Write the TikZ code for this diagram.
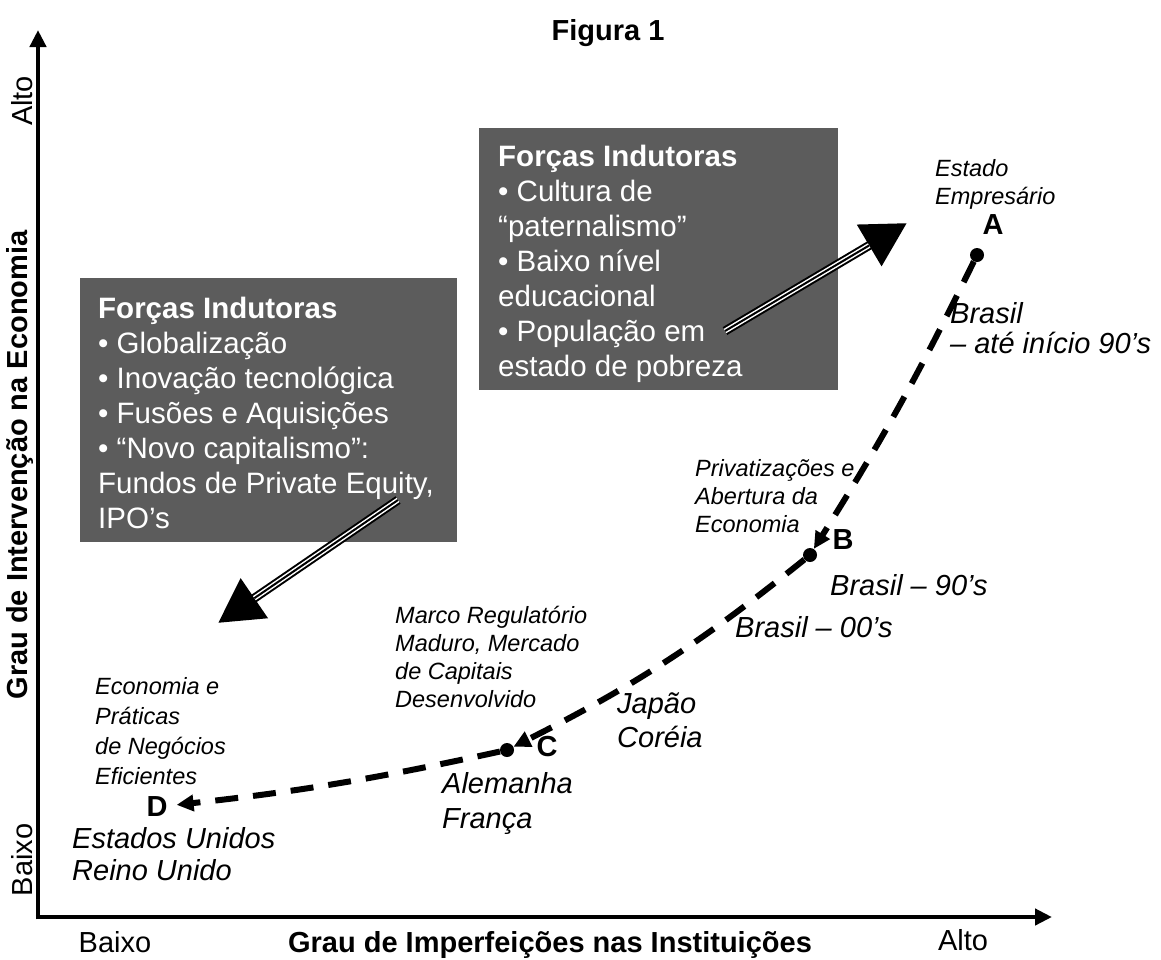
\documentclass[tikz,border=0pt]{standalone}
\usepackage{fontspec}
\setmainfont{Liberation Sans}
\usetikzlibrary{arrows.meta}
\definecolor{boxgray}{RGB}{92,92,92}

\tikzset{
  axisline/.style={line width=4.5pt, -{Triangle[length=17pt,width=16pt]}},
  axislabel/.style={font=\fontsize{29}{33}\selectfont, inner sep=0pt},
  axistitle/.style={font=\fontsize{29}{33}\selectfont\bfseries, inner sep=0pt},
  forcebox/.style={fill=boxgray, draw=none, inner sep=0pt},
  boxtext/.style={text=white, font=\fontsize{29.5}{35}\selectfont, align=left, inner sep=0pt},
  bigarrow/.style={line width=9pt, -{Triangle[length=44pt,width=46pt]}},
  gapline/.style={line width=5pt, white, shorten >=44pt},
  coreline/.style={line width=2pt, black, shorten >=44pt},
  ptdot/.style={circle, fill=black, inner sep=0pt, minimum size=14pt},
  ptletter/.style={font=\fontsize{29}{33}\selectfont\bfseries, inner sep=0pt},
  trend/.style={line width=6pt, dash pattern=on 23pt off 15pt, -{Triangle[length=17pt,width=16pt]}},
  biglbl/.style={font=\fontsize{29}{33}\selectfont\itshape, align=left, inner sep=0pt},
  smalllbl/.style={font=\fontsize{23.5}{28}\selectfont\itshape, align=left, inner sep=0pt},
}

\begin{document}
\begin{tikzpicture}[x=1pt,y=-1pt]
\useasboundingbox (0,0) rectangle (1161,959);

% Title
\node[axistitle, anchor=base] (title) at (608,40) {Figura 1};

% Axes
\coordinate (origin) at (38,917);
\coordinate (ytop) at (38,30);
\coordinate (xend) at (1052,917);
\draw[axisline] ([yshift=-2.25pt]origin) -- (ytop);
\draw[axisline] ([xshift=-2.25pt]origin) -- (xend);

\node[axislabel, rotate=90] (yalto) at (22,101) {Alto};
\node[axislabel, rotate=90] (ybaixo) at (22,860) {Baixo};
\node[axistitle, rotate=90] (ytitle) at (20,465) {Grau de Intervenção na Economia};
\node[axislabel, anchor=base] (xbaixo) at (115,952) {Baixo};
\node[axistitle, anchor=base] (xtitle) at (550,952) {Grau de Imperfeições nas Instituições};
\node[axislabel, anchor=base] (xalto) at (963,950) {Alto};

% Boxes of forces
\node[forcebox, minimum width=377pt, minimum height=264pt, anchor=north west] (lbox) at (80,278) {};
\node[boxtext, anchor=north west] (ltext) at (98,297)
  {\textbf{Forças Indutoras}\\• Globalização\\• Inovação tecnológica\\• Fusões e Aquisições\\• “Novo capitalismo”:\\Fundos de Private Equity,\\IPO’s};

\node[forcebox, minimum width=359pt, minimum height=262pt, anchor=north west] (rbox) at (479,128) {};
\node[boxtext, anchor=north west] (rtext) at (498,145)
  {\textbf{Forças Indutoras}\\• Cultura de\\“paternalismo”\\• Baixo nível\\educacional\\• População em\\estado de pobreza};

% Big arrows
\coordinate (rtail) at (725,331);
\coordinate (rhead) at (907,223);
\draw[bigarrow] (rtail) -- (rhead);
\draw[gapline] (rtail) -- (rhead);
\draw[coreline] (rtail) -- (rhead);

\coordinate (ltail) at (398,500);
\coordinate (lhead) at (218,623);
\draw[bigarrow] (ltail) -- (lhead);
\draw[gapline] (ltail) -- (lhead);
\draw[coreline] (ltail) -- (lhead);

% Points
\node[ptdot] (ptA) at (977,255) {};
\node[ptdot] (ptB) at (810,555) {};
\node[ptdot] (ptC) at (507,750) {};
\node[ptletter] (labA) at (993,225) {A};
\node[ptletter] (labB) at (843,540) {B};
\node[ptletter] (labC) at (547,747) {C};
\node[ptletter] (labD) at (157,807) {D};

% Path
\draw[trend] (ptA) to[bend left=3] (ptB);
\draw[trend] (ptB) to[bend left=6] (ptC);
\draw[trend, shorten >=9pt] (ptC) to[bend left=3] (labD);

% Labels
\node[smalllbl, anchor=north west] (empresario) at (935,159) {Estado\\Empresário};
\node[biglbl, anchor=north west, font=\fontsize{29}{30}\selectfont\itshape] (brasilA) at (950,302) {Brasil\\– até início 90’s};
\node[smalllbl, anchor=north west] (privat) at (695,459) {Privatizações e\\Abertura da\\Economia};
\node[biglbl, anchor=north west] (brasilB) at (830,574) {Brasil – 90’s};
\node[biglbl, anchor=north west] (brasil00) at (735,616) {Brasil – 00’s};
\node[smalllbl, anchor=north west] (marco) at (395,606) {Marco Regulatório\\Maduro, Mercado\\de Capitais\\Desenvolvido};
\node[biglbl, anchor=north west, font=\fontsize{29}{34}\selectfont\itshape] (japao) at (617,692) {Japão\\Coréia};
\node[biglbl, anchor=north west, font=\fontsize{29}{35}\selectfont\itshape] (alemanha) at (442,772) {Alemanha\\França};
\node[smalllbl, anchor=north west, font=\fontsize{23.5}{30}\selectfont\itshape] (eficientes) at (95,677) {Economia e\\Práticas\\de Negócios\\Eficientes};
\node[biglbl, anchor=north west, font=\fontsize{29}{32}\selectfont\itshape] (eua) at (72,827) {Estados Unidos\\Reino Unido};
\end{tikzpicture}
\end{document}
